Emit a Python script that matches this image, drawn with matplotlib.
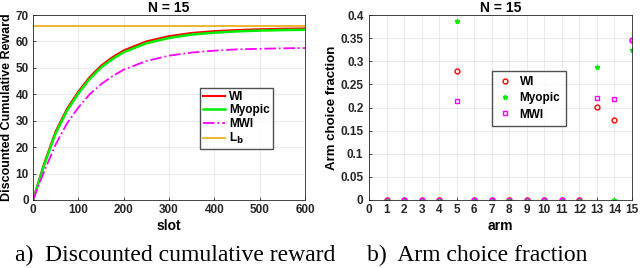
import numpy as np
import matplotlib.pyplot as plt

# left panel: discounted cumulative reward vs slot
slot = [0, 25, 50, 75, 100, 125, 150, 175, 200, 250, 300, 350, 400, 450, 500, 550, 600]
wi = [0, 14, 26, 34.5, 41, 46.5, 50.8, 54, 56.6, 60, 62, 63.2, 63.9, 64.3, 64.6, 64.8, 64.9]
myopic = [0, 13.5, 25.3, 33.8, 40.3, 45.8, 50.1, 53.3, 55.9, 59.3, 61.3, 62.6, 63.3, 63.8, 64.1, 64.3, 64.4]
mwi = [0, 11, 21, 29, 35, 40, 43.8, 46.8, 49.3, 52.6, 54.6, 55.8, 56.5, 57, 57.2, 57.4, 57.5]
lb = 65.8

# right panel: arm choice fraction
arms = list(range(1, 16))
frac_wi = [0, 0, 0, 0, 0.279, 0, 0, 0, 0, 0, 0, 0, 0.202, 0.172, 0.345]
frac_myopic = [0, 0, 0, 0, 0.388, 0, 0, 0, 0, 0, 0, 0, 0.287, 0, 0.324]
frac_mwi = [0, 0, 0, 0, 0.213, 0, 0, 0, 0, 0, 0, 0, 0.221, 0.218, 0.346]

plt.rcParams["font.family"] = "Liberation Sans"
plt.rcParams["font.weight"] = "bold"
plt.rcParams["font.size"] = 8.5

fig = plt.figure(figsize=(6.4, 2.68), dpi=100)
W, H = 640, 268
ax1 = fig.add_axes([33 / W, 1 - 200 / H, (305 - 33) / W, (200 - 15) / H])
ax2 = fig.add_axes([369 / W, 1 - 200 / H, (632 - 369) / W, (200 - 15) / H])

for ax in (ax1, ax2):
    ax.grid(True, color="#e6e6e6", linewidth=0.6)
    ax.set_axisbelow(True)
    for s in ax.spines.values():
        s.set_color("#262626")
        s.set_linewidth(0.6)
    ax.tick_params(direction="in", length=2.5, width=0.6, colors="#262626", labelsize=8.5, pad=3)
    ax.set_title("N = 15", fontsize=10, fontweight="bold", pad=2)

# ── left panel ──
ax1.plot(slot, wi, color="#ff0000", lw=1.5, label="WI")
ax1.plot(slot, myopic, color="#00ee00", lw=1.8, label="Myopic")
ax1.plot(slot, mwi, color="#ff00ff", lw=1.3, ls="-.", label="MWI")
ax1.axhline(lb, color="#edb120", lw=1.3, label="L$_\\mathbf{b}$")
ax1.set_xlim(0, 600)
ax1.set_ylim(0, 70)
ax1.set_xticks(range(0, 601, 100))
ax1.set_yticks(range(0, 71, 10))
ax1.set_xlabel("slot", fontsize=10, fontweight="bold", labelpad=2)
ax1.set_ylabel("Discounted Cumulative Reward", fontsize=9, fontweight="bold", labelpad=2)
ax1.legend(loc="upper left", bbox_to_anchor=((200 - 33) / 272, (200 - 88) / 185),
           fontsize=8.5, frameon=True, fancybox=False, edgecolor="#262626",
           handlelength=1.9, borderpad=0.25, labelspacing=0.12, handletextpad=0.3,
           borderaxespad=0)

# ── right panel ──
ax2.plot(arms, frac_wi, "o", mfc="none", mec="#ff0000", ms=3.5, mew=1.0, ls="none", label="WI")
ax2.plot(arms, frac_myopic, "*", color="#00ee00", ms=3.5, ls="none", label="Myopic")
ax2.plot(arms, frac_mwi, "s", mfc="none", mec="#ff00ff", ms=3.2, mew=1.0, ls="none", label="MWI")
ax2.set_xlim(0, 15)
ax2.set_ylim(0, 0.4)
ax2.set_xticks(range(0, 16))
yt = np.arange(0, 0.41, 0.05)
ax2.set_yticks(yt)
ax2.set_yticklabels([f"{v:g}" for v in np.round(yt, 2)])
ax2.tick_params(axis="y", pad=4)
ax2.set_xlabel("arm", fontsize=10, fontweight="bold", labelpad=2)
ax2.set_ylabel("Arm choice fraction", fontsize=9.5, fontweight="bold", labelpad=2)
ax2.legend(loc="upper left", bbox_to_anchor=((492 - 369) / 263, (200 - 71) / 185),
           fontsize=8.5, frameon=True, fancybox=False, edgecolor="#262626",
           handlelength=1.3, borderpad=0.45, labelspacing=0.35, handletextpad=0.6,
           borderaxespad=0)

# captions
fig.text(175 / W, 1 - 261 / H, "a)  Discounted cumulative reward", ha="center", va="baseline",
         family="Liberation Serif", fontweight="normal", fontsize=17)
fig.text(477 / W, 1 - 261 / H, "b)  Arm choice fraction", ha="center", va="baseline",
         family="Liberation Serif", fontweight="normal", fontsize=17)

fig.savefig("out.png", dpi=100)
